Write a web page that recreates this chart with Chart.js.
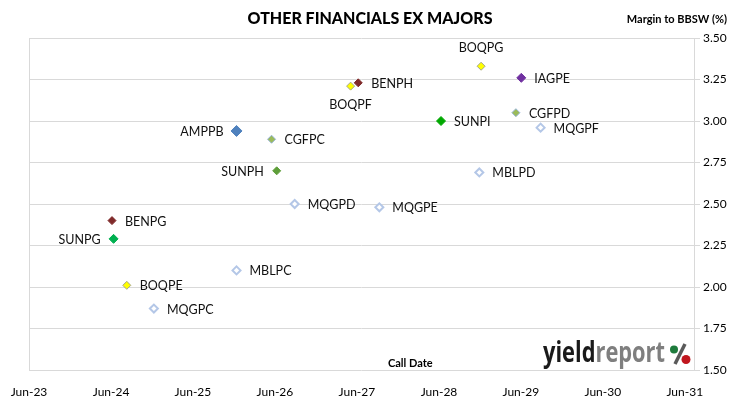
<!doctype html>
<html lang="en">

<head>
    <meta charset="utf-8">
    <title>Other Financials ex Majors</title>
    <script src="https://cdn.jsdelivr.net/npm/chart.js"></script>
    <style>
        body {
            margin: 0;
            background: #fff;
        }

        #wrap {
            width: 730px;
            height: 399px;
        }
    </style>
</head>

<body>
    <div id="wrap"><canvas id="chart"></canvas></div>

    <script>
        // securities, call dates and margin to BBSW (%)
        const names = ['BOQPG', 'IAGPE', 'BENPH', 'BOQPF', 'SUNPI', 'CGFPD', 'MQGPF', 'MBLPD', 'MQGPE',
            'MQGPD', 'AMPPB', 'CGFPC', 'SUNPH', 'BENPG', 'SUNPG', 'MBLPC', 'BOQPE', 'MQGPC'];
        const callDates = ['2028-12-06', '2029-06-03', '2027-06-07', '2027-05-04', '2028-06-10', '2029-05-10',
            '2029-08-28', '2028-11-28', '2027-09-09', '2026-08-28', '2025-12-12', '2026-05-17', '2026-06-09',
            '2024-06-05', '2024-06-12', '2025-12-12', '2024-08-10', '2024-12-09'];
        const margins = [3.33, 3.26, 3.23, 3.21, 3.00, 3.05, 2.96, 2.69, 2.48,
            2.50, 2.94, 2.89, 2.70, 2.40, 2.29, 2.10, 2.01, 1.87];

        const tickLabels = ['Jun-23', 'Jun-24', 'Jun-25', 'Jun-26', 'Jun-27', 'Jun-28', 'Jun-29', 'Jun-30', 'Jun-31'];
        const tickDates = ['2023-06-01', '2024-06-01', '2025-06-01', '2026-06-01', '2027-06-01', '2028-06-01',
            '2029-06-01', '2030-06-01', '2031-06-01'];
        const xMinDate = '2023-06-01';
        const xMaxDate = '2031-07-12';

        // marker look per security
        const yellow = { fill: '#FFFF00', line: '#A5A58A', r: 4 };
        const benRed = { fill: '#7F2A2A', line: '#7F2A2A', r: 4 };
        const hollow = { fill: '#FFFFFF', line: '#B4C7E7', r: 4 };
        const sage = { fill: '#9BBB59', line: '#95B3D7', r: 4 };
        const markerStyle = {
            BOQPG: yellow, BOQPF: yellow, BOQPE: yellow,
            BENPH: benRed, BENPG: benRed,
            IAGPE: { fill: '#7030A0', line: '#7030A0', r: 4.5 },
            SUNPI: { fill: '#00A800', line: '#00A800', r: 4.5 },
            SUNPG: { fill: '#00B050', line: '#00B050', r: 4.5 },
            SUNPH: { fill: '#5E9E3A', line: '#5E9E3A', r: 4 },
            CGFPD: sage, CGFPC: sage,
            AMPPB: { fill: '#4F81BD', line: '#4F81BD', r: 5.5 },
            MQGPF: hollow, MBLPD: hollow, MQGPE: hollow, MQGPD: hollow, MBLPC: hollow, MQGPC: hollow
        };
        // where the name sits next to the marker (default right)
        const labelSide = { BOQPG: 'above', BOQPF: 'below', AMPPB: 'left', SUNPH: 'left', SUNPG: 'left' };

        function toYear(s) {
            const d = new Date(s + 'T00:00:00Z');
            const start = Date.UTC(d.getUTCFullYear(), 0, 1);
            const end = Date.UTC(d.getUTCFullYear() + 1, 0, 1);
            return d.getUTCFullYear() + (d - start) / (end - start);
        }

        const points = names.map((n, i) => ({ x: toYear(callDates[i]), y: margins[i] }));
        const tickYears = tickDates.map(toYear);

        const gridColor = '#D9D9D9';
        Chart.defaults.font.family = 'Lato, "Open Sans", sans-serif';
        Chart.defaults.color = '#000';

        const decorations = {
            id: 'decorations',
            beforeDatasetsDraw(chart) {
                const { ctx, chartArea: a } = chart;
                ctx.save();
                ctx.strokeStyle = gridColor;
                ctx.lineWidth = 1;
                ctx.beginPath();
                ctx.moveTo(Math.round(a.left) + 0.5, a.top);
                ctx.lineTo(Math.round(a.left) + 0.5, a.bottom);
                ctx.stroke();
                ctx.restore();
            },
            afterDatasetsDraw(chart) {
                const ctx = chart.ctx;
                const meta = chart.getDatasetMeta(0);
                ctx.save();
                ctx.font = '12.5px Lato';
                ctx.fillStyle = '#111';
                ctx.textBaseline = 'middle';
                meta.data.forEach((el, i) => {
                    const side = labelSide[names[i]] || 'right';
                    if (side === 'right') {
                        ctx.textAlign = 'left';
                        ctx.fillText(names[i], el.x + 13, el.y + 1);
                    } else if (side === 'left') {
                        ctx.textAlign = 'right';
                        ctx.fillText(names[i], el.x - 13, el.y + 1);
                    } else if (side === 'above') {
                        ctx.textAlign = 'center';
                        ctx.fillText(names[i], el.x, el.y - 18);
                    } else {
                        ctx.textAlign = 'center';
                        ctx.fillText(names[i], el.x, el.y + 19);
                    }
                });

                // titles
                ctx.fillStyle = '#000';
                ctx.textAlign = 'center';
                ctx.font = '900 16px Lato';
                ctx.fillText('OTHER FINANCIALS EX MAJORS', 370, 19);
                ctx.textAlign = 'right';
                ctx.font = 'bold 11px Lato';
                ctx.fillText('Margin to BBSW (%)', 727, 19);
                ctx.textAlign = 'left';
                ctx.fillText('Call Date', 388, 363);

                // yieldreport logo
                ctx.textBaseline = 'alphabetic';
                ctx.font = 'bold 29px "Open Sans"';
                const w1 = ctx.measureText('yield').width;
                const w2 = ctx.measureText('report').width;
                const sx = 122 / (w1 + w2);
                ctx.save();
                ctx.translate(543, 362);
                ctx.scale(sx, 1);
                ctx.fillStyle = '#1A1A1A';
                ctx.fillText('yield', 0, 0);
                ctx.fillStyle = '#7F7F7F';
                ctx.fillText('report', w1, 0);
                ctx.restore();
                ctx.strokeStyle = '#5A5A5A';
                ctx.lineWidth = 3.5;
                ctx.beginPath();
                ctx.moveTo(685, 344);
                ctx.lineTo(675, 364);
                ctx.stroke();
                ctx.fillStyle = '#1E7B3C';
                ctx.beginPath();
                ctx.arc(674, 349.5, 4, 0, Math.PI * 2);
                ctx.fill();
                ctx.fillStyle = '#C0161E';
                ctx.beginPath();
                ctx.arc(686, 359.5, 4.5, 0, Math.PI * 2);
                ctx.fill();
                ctx.restore();
            }
        };

        const chart = new Chart(document.getElementById('chart'), {
            type: 'scatter',
            data: {
                datasets: [{
                    data: points,
                    pointStyle: 'rectRot',
                    pointRadius: ctx => markerStyle[names[ctx.dataIndex]].r,
                    pointHoverRadius: ctx => markerStyle[names[ctx.dataIndex]].r,
                    pointBackgroundColor: ctx => markerStyle[names[ctx.dataIndex]].fill,
                    pointBorderColor: ctx => markerStyle[names[ctx.dataIndex]].line,
                    pointBorderWidth: ctx => markerStyle[names[ctx.dataIndex]].fill === '#FFFFFF' ? 2 : 1
                }]
            },
            options: {
                responsive: true,
                maintainAspectRatio: false,
                animation: false,
                layout: { padding: { top: 38, left: 29, right: 0, bottom: 0 } },
                plugins: {
                    legend: { display: false },
                    tooltip: { enabled: false }
                },
                scales: {
                    x: {
                        type: 'linear',
                        min: toYear(xMinDate),
                        max: toYear(xMaxDate),
                        afterBuildTicks: scale => {
                            scale.ticks = tickYears.map(v => ({ value: v }));
                        },
                        afterFit: scale => { scale.height = 29; },
                        grid: { display: false },
                        border: { display: false },
                        ticks: {
                            autoSkip: false,
                            maxRotation: 0,
                            padding: 7,
                            font: { size: 12 },
                            callback: (v, i) => tickLabels[i]
                        }
                    },
                    y: {
                        position: 'right',
                        min: 1.5,
                        max: 3.5,
                        afterFit: scale => { scale.width = 36; },
                        grid: { color: gridColor, tickLength: 6 },
                        border: { color: gridColor },
                        ticks: {
                            stepSize: 0.25,
                            padding: 3,
                            font: { size: 12 },
                            callback: v => v.toFixed(2)
                        }
                    }
                }
            },
            plugins: [decorations]
        });
    </script>

</body>

</html>
